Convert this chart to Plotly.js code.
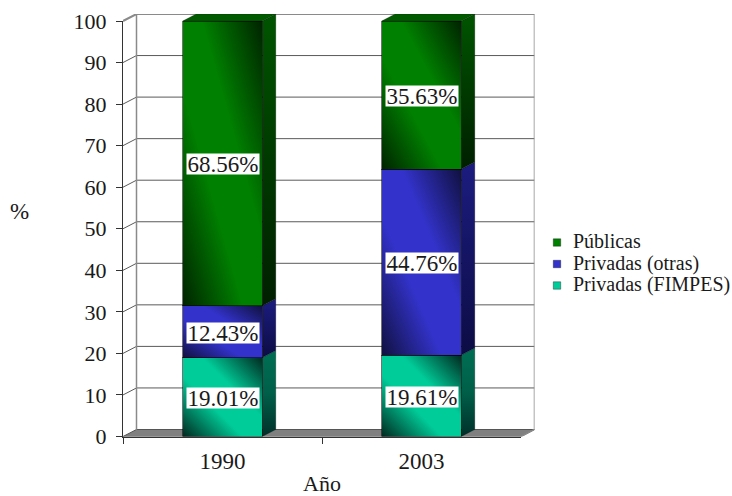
<!DOCTYPE html>
<html>
<head>
<meta charset="utf-8">
<script src="https://cdn.plot.ly/plotly-3.0.1.min.js"></script>
<style>html,body{margin:0;padding:0;background:#fff}</style>
</head>
<body>
<div id="chart" style="width:732px;height:496px"></div>
<script>
var categories = ['1990', '2003'];
var fimpes = [19.01, 19.61];
var otras = [12.43, 44.76];
var publicas = [68.56, 35.63];
var seriesNames = ['Privadas (FIMPES)', 'Privadas (otras)', 'Públicas'];
var yTicks = [0, 10, 20, 30, 40, 50, 60, 70, 80, 90, 100];

var W = 732, H = 496;
var left = 123, right = 521, bottom = 436.5, top_ = 21;
var depthX = 13.5, depthY = 7;
var pxPerCat = (right - left) / 2, pxPerVal = (bottom - top_) / 100;
var dx = depthX / pxPerCat, dy = depthY / pxPerVal;
var halfBar = 0.2;

var series = [fimpes, otras, publicas];
var brights = ['#00cc99', '#3333cc', '#008000'];
var darks = ['#00291f', '#10103f', '#002300'];
var sideScales = [
  [[0, '#00302a'], [0.5, '#005f48'], [1, '#006f54']],
  [[0, '#0c0c45'], [1, '#1c1c80']],
  [[0, '#001f00'], [1, '#005400']]
];

var traces = [];
function wallLine(xs, ys, color, width) {
  traces.push({x: xs, y: ys, xaxis: 'x', yaxis: 'y', type: 'scatter', mode: 'lines',
    line: {color: color, width: width}, showlegend: false, hoverinfo: 'skip'});
}
// floor
traces.push({x: [-0.5, -0.5 + dx, 1.5 + dx, 1.5, -0.5], y: [0, dy, dy, 0, 0],
  xaxis: 'x', yaxis: 'y', type: 'scatter', mode: 'lines', fill: 'toself', fillcolor: '#808080',
  line: {color: '#555555', width: 1}, showlegend: false, hoverinfo: 'skip'});
// back wall
yTicks.forEach(function (v) {
  if (v > 0) wallLine([-0.5, -0.5 + dx, 1.5 + dx], [v, v + dy, v + dy], v === 100 ? '#8a8a8a' : '#5a5a5a', v === 100 ? 2 : 1);
});
wallLine([-0.5 + dx, -0.5 + dx], [dy, 100 + dy], '#8a8a8a', 1.5);
wallLine([1.5 + dx, 1.5 + dx, 1.5], [100 + dy, dy, 0], '#8a8a8a', 1.5);

// side and top faces, built from the stacked values
categories.forEach(function (c, i) {
  var base = 0;
  series.forEach(function (s, k) {
    var x1 = i + halfBar, t = base + s[i];
    traces.push({x: [x1, x1 + dx, x1 + dx, x1, x1], y: [base, base + dy, t + dy, t, base],
      xaxis: 'x', yaxis: 'y', type: 'scatter', mode: 'lines', fill: 'toself',
      fillgradient: {type: 'vertical', colorscale: sideScales[k]},
      line: {color: 'rgba(0,0,0,0.45)', width: 0.5}, showlegend: false, hoverinfo: 'skip'});
    base = t;
  });
  traces.push({x: [i - halfBar, i - halfBar + dx, i + halfBar + dx, i + halfBar, i - halfBar],
    y: [base, base + dy, base + dy, base, base],
    xaxis: 'x', yaxis: 'y', type: 'scatter', mode: 'lines', fill: 'toself', fillcolor: '#005a00',
    line: {color: 'rgba(0,0,0,0.45)', width: 0.5}, showlegend: false, hoverinfo: 'skip'});
});

// front faces
series.forEach(function (s, k) {
  traces.push({x: categories, y: s, name: seriesNames[k], type: 'bar', xaxis: 'x2', yaxis: 'y2',
    marker: {color: brights[k], line: {color: 'rgba(0,0,0,0.55)', width: 1}}, hoverinfo: 'y+name'});
});

// value labels
var annotations = [];
categories.forEach(function (c, i) {
  var base = 0;
  series.forEach(function (s) {
    annotations.push({x: i, y: base + s[i] / 2, xref: 'x2', yref: 'y2', text: s[i].toFixed(2) + '%',
      showarrow: false, bgcolor: '#ffffff', width: 72, height: 20, borderpad: 0, yshift: -1,
      font: {family: 'Liberation Serif', size: 23, color: '#1a1a1a'}});
    base += s[i];
  });
});
annotations.push({x: 19 / W, y: (H - 211) / H, xref: 'paper', yref: 'paper', text: '%', showarrow: false,
  xanchor: 'center', font: {family: 'Liberation Serif', size: 23, color: '#1a1a1a'}});

var layout = {
  width: W, height: H,
  margin: {l: 0, r: 0, t: 0, b: 0},
  paper_bgcolor: '#ffffff', plot_bgcolor: 'rgba(0,0,0,0)',
  barmode: 'stack', bargap: 0.6,
  font: {family: 'Liberation Serif', size: 20, color: '#1a1a1a'},
  showlegend: true,
  legend: {x: 480 / W, xanchor: 'left', y: (H - 228) / H, yanchor: 'top', traceorder: 'reversed',
    font: {family: 'Liberation Serif', size: 20, color: '#1a1a1a'}, bgcolor: 'rgba(0,0,0,0)'},
  xaxis: {domain: [left / W, (right + depthX) / W], range: [-0.5, 1.5 + dx], visible: false, fixedrange: true},
  yaxis: {domain: [(H - bottom) / H, (H - top_ + depthY) / H], range: [0, 100 + dy], visible: false, fixedrange: true},
  xaxis2: {domain: [left / W, right / W], anchor: 'y2', type: 'category', categoryorder: 'array',
    categoryarray: categories, range: [-0.5, 1.5], tickson: 'boundaries', ticks: 'outside', ticklen: 6,
    tickcolor: '#333333', showline: true, linecolor: '#333333', showgrid: false, zeroline: false,
    ticklabelstandoff: 4,
    tickfont: {family: 'Liberation Serif', size: 23, color: '#1a1a1a'},
    title: {text: 'Año', standoff: 16, font: {family: 'Liberation Serif', size: 22, color: '#1a1a1a'}}},
  yaxis2: {domain: [(H - bottom) / H, (H - top_) / H], anchor: 'x2', range: [0, 100], tickmode: 'array',
    tickvals: yTicks, ticks: 'outside', ticklen: 6, tickcolor: '#333333', showline: true, linecolor: '#333333',
    showgrid: false, zeroline: false, ticklabelstandoff: 5,
    tickfont: {family: 'Liberation Serif', size: 22, color: '#1a1a1a'}},
  annotations: annotations
};

Plotly.newPlot('chart', traces, layout, {displayModeBar: false, staticPlot: true}).then(function (gd) {
  var NS = 'http://www.w3.org/2000/svg';
  var svg = gd.querySelector('svg.main-svg');
  var defs = svg.querySelector('defs');
  series.forEach(function (s, k) {
    var g = document.createElementNS(NS, 'linearGradient');
    g.setAttribute('id', 'front' + k);
    g.setAttribute('x1', '1'); g.setAttribute('y1', '0');
    g.setAttribute('x2', '0'); g.setAttribute('y2', '1');
    [[0, darks[k]], [0.38, brights[k]], [0.62, brights[k]], [1, darks[k]]].forEach(function (st) {
      var e = document.createElementNS(NS, 'stop');
      e.setAttribute('offset', st[0]);
      e.setAttribute('stop-color', st[1]);
      g.appendChild(e);
    });
    defs.appendChild(g);
  });
  gd.querySelectorAll('.barlayer .trace.bars').forEach(function (t, k) {
    t.querySelectorAll('.point path').forEach(function (p) {
      p.style.fill = 'url(#front' + k + ')';
    });
  });
  gd.querySelectorAll('.legend .legendpoints path').forEach(function (p) {
    p.setAttribute('transform', 'translate(24,2) scale(0.62)');
  });
  var rows = gd.querySelectorAll('.legend .traces');
  var re = /translate\(([^,]+),\s*([^)]+)\)/;
  var y0 = parseFloat(re.exec(rows[0].getAttribute('transform'))[2]);
  rows.forEach(function (row, k) {
    var m = re.exec(row.getAttribute('transform'));
    row.setAttribute('transform', 'translate(' + m[1] + ',' + (y0 + 21.5 * k) + ')');
  });
  var lg = gd.querySelector('.legend');
  var lm = re.exec(lg.getAttribute('transform'));
  lg.setAttribute('transform', 'translate(533,' + (parseFloat(lm[2]) - 7) + ')');
  gd.querySelectorAll('.legend .scrollbox').forEach(function (c) { c.removeAttribute('clip-path'); });
});
</script>
</body>
</html>
